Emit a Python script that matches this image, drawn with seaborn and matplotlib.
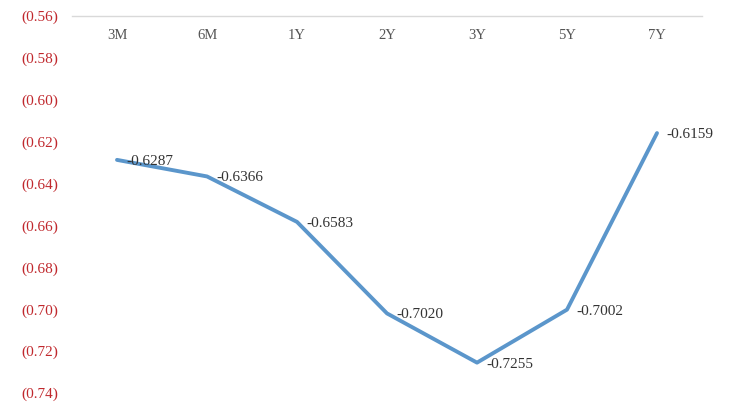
import numpy as np
import pandas as pd
import seaborn as sns
import matplotlib.pyplot as plt
from matplotlib.ticker import FuncFormatter

tenors = ['3M', '6M', '1Y', '2Y', '3Y', '5Y', '7Y']
values = [-0.6287, -0.6366, -0.6583, -0.7020, -0.7255, -0.7002, -0.6159]
ytick_values = [-0.56, -0.58, -0.60, -0.62, -0.64, -0.66, -0.68, -0.70, -0.72, -0.74]

data = pd.DataFrame({'tenor': tenors, 'value': values})

sns.set_style('white')
plt.rcParams['font.family'] = ['Liberation Serif', 'DejaVu Sans']

fig = plt.figure(figsize=(7.32, 4.13), dpi=100)
ax = fig.add_axes([72 / 732, 1 - 393 / 413, 630 / 732, 377 / 413])

sns.lineplot(x='tenor', y='value', data=data, ax=ax, color='#5B96CB',
             linewidth=2.8, sort=False)

# data labels to the right of each point
for i, v in enumerate(values):
    ax.annotate(f'{v:.4f}', (i, v), xytext=(7, -1), textcoords='offset points',
                ha='left', va='center', fontsize=11, color='#333333')

ax.set_xlim(-0.5, len(tenors) - 0.5)
ax.set_ylim(min(ytick_values), max(ytick_values))
ax.set_yticks(ytick_values)
ax.yaxis.set_major_formatter(FuncFormatter(lambda v, p: f'({abs(v):.2f})'))

ax.tick_params(axis='x', top=True, labeltop=True, bottom=False, labelbottom=False,
               length=0, pad=-9, labelsize=10.5, labelcolor='#555555')
ax.tick_params(axis='y', length=0, pad=10, labelsize=11, labelcolor='#C0282D')
for lab in ax.get_xticklabels():
    lab.set_verticalalignment('top')

for s in ['left', 'right', 'bottom']:
    ax.spines[s].set_visible(False)
ax.spines['top'].set_color('#D9D9D9')
ax.spines['top'].set_linewidth(1)

ax.set_xlabel('')
ax.set_ylabel('')

fig.savefig('out.png', dpi=100, facecolor='white')
